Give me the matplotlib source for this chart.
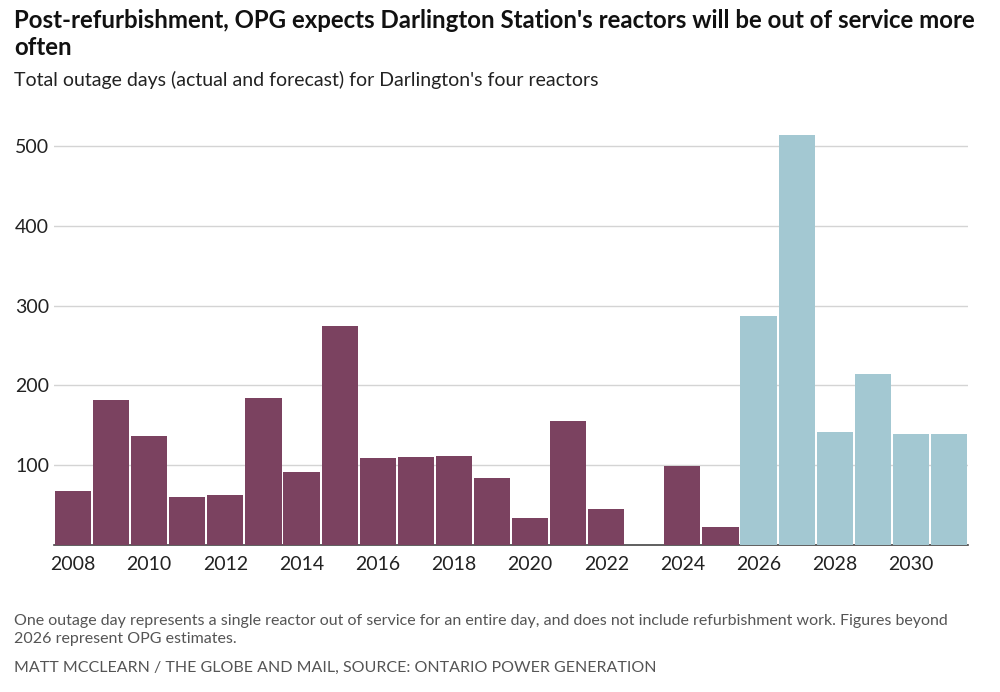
import matplotlib
matplotlib.use("Agg")
import matplotlib.pyplot as plt

years = list(range(2008, 2032))
outage_days = [68, 182, 137, 60, 63, 184, 92, 274, 109, 110, 111, 84, 34, 155, 45, 0,
               99, 22, 287, 514, 142, 214, 139, 139]
forecast_start = 2026
ytick_vals = [100, 200, 300, 400, 500]
xtick_years = list(range(2008, 2031, 2))

actual_color = "#7b4260"
forecast_color = "#a3c8d2"

plt.rcParams['font.family'] = ['Lato', 'DejaVu Sans']

fig = plt.figure(figsize=(10, 6.92), dpi=100)
ax = fig.add_axes([0.054, 0.2124, 0.914, 0.5996])

colors = [forecast_color if y >= forecast_start else actual_color for y in years]
ax.bar(years, outage_days, width=0.95, color=colors, zorder=3)

ax.set_xlim(years[0] - 0.5, years[-1] + 0.5)
ax.set_ylim(0, 520)
ax.set_yticks(ytick_vals)
ax.set_yticklabels([str(v) for v in ytick_vals], fontsize=14, color="#222222", ha="left")
ax.set_xticks(xtick_years)
ax.set_xticklabels([str(y) for y in xtick_years], fontsize=14, color="#222222")
ax.yaxis.grid(True, color="#d4d4d4", linewidth=1, zorder=0)
ax.set_axisbelow(True)
for s in ["top", "right", "left"]:
    ax.spines[s].set_visible(False)
ax.spines["bottom"].set_color("#444444")
ax.spines["bottom"].set_linewidth(1.2)
ax.tick_params(axis="both", length=0)
ax.tick_params(axis="y", pad=28)
ax.tick_params(axis="x", pad=8)

fig.text(0.014, 0.951, "Post-refurbishment, OPG expects Darlington Station's reactors will be out of service more\noften",
         fontsize=17.3, fontweight="bold", color="#111111", va="center", linespacing=1.25)
fig.text(0.014, 0.885, "Total outage days (actual and forecast) for Darlington's four reactors",
         fontsize=14, color="#222222", va="center")
fig.text(0.014, 0.09, "One outage day represents a single reactor out of service for an entire day, and does not include refurbishment work. Figures beyond\n2026 represent OPG estimates.",
         fontsize=11.5, color="#555555", va="center", linespacing=1.4)
fig.text(0.014, 0.035, "MATT MCCLEARN / THE GLOBE AND MAIL, SOURCE: ONTARIO POWER GENERATION",
         fontsize=11.5, color="#555555", va="center")

fig.savefig("out.png", dpi=100, facecolor="white")
